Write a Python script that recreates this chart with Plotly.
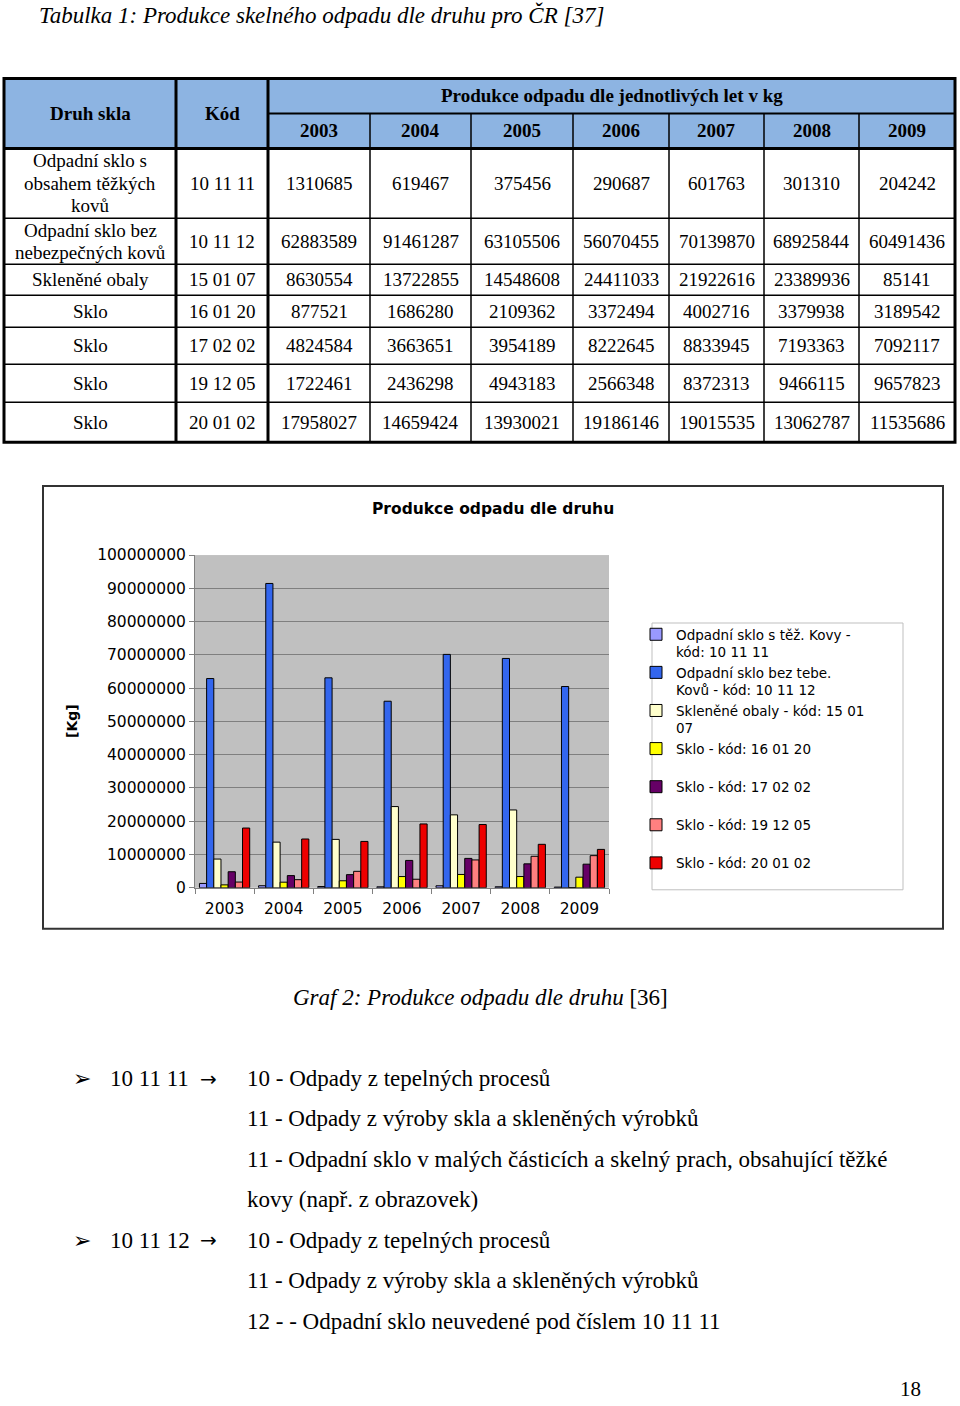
import plotly.graph_objects as go

W, H = 960, 1406

# --- data ---
roky = ["2003", "2004", "2005", "2006", "2007", "2008", "2009"]
druh_skla = ["Odpadní sklo s\nobsahem těžkých\nkovů", "Odpadní sklo bez\nnebezpečných kovů",
             "Skleněné obaly", "Sklo", "Sklo", "Sklo", "Sklo"]
kody = ["10 11 11", "10 11 12", "15 01 07", "16 01 20", "17 02 02", "19 12 05", "20 01 02"]

odpad_101111 = [1310685, 619467, 375456, 290687, 601763, 301310, 204242]
odpad_101112 = [62883589, 91461287, 63105506, 56070455, 70139870, 68925844, 60491436]
odpad_150107 = [8630554, 13722855, 14548608, 24411033, 21922616, 23389936, 85141]
odpad_160120 = [877521, 1686280, 2109362, 3372494, 4002716, 3379938, 3189542]
odpad_170202 = [4824584, 3663651, 3954189, 8222645, 8833945, 7193363, 7092117]
odpad_191205 = [1722461, 2436298, 4943183, 2566348, 8372313, 9466115, 9657823]
odpad_200102 = [17958027, 14659424, 13930021, 19186146, 19015535, 13062787, 11535686]

serie = [odpad_101111, odpad_101112, odpad_150107, odpad_160120,
         odpad_170202, odpad_191205, odpad_200102]
nazvy_serii = ["Odpadní sklo s těž. Kovy -<br>kód: 10 11 11",
               "Odpadní sklo bez tebe.<br>Kovů - kód: 10 11 12",
               "Skleněné obaly - kód: 15 01<br>07",
               "Sklo - kód: 16 01 20<br> ",
               "Sklo - kód: 17 02 02<br> ",
               "Sklo - kód: 19 12 05<br> ",
               "Sklo - kód: 20 01 02<br> "]
barvy = ["#9999FF", "#3366EE", "#FFFFCC", "#FFFF00", "#660066", "#FF8080", "#EE0000"]

popis_1 = ["10 - Odpady z tepelných procesů",
           "11 - Odpady z výroby skla a skleněných výrobků",
           "11 - Odpadní sklo v malých částicích a skelný prach, obsahující těžké",
           "kovy (např. z obrazovek)"]
popis_2 = ["10 - Odpady z tepelných procesů",
           "11 - Odpady z výroby skla a skleněných výrobků",
           "12 - - Odpadní sklo neuvedené pod číslem 10 11 11"]

SERIF = "Liberation Serif, Times New Roman, serif"
SANS = "DejaVu Sans, Arial, sans-serif"


def px(x):
    return x / W


def py(y):
    # page is shown with a small vertical offset/squeeze, compensate for it
    return 1 - ((y - 8.5) / 0.988) / H


fig = go.Figure()
for vals, name, col in zip(serie, nazvy_serii, barvy):
    fig.add_trace(go.Bar(x=roky, y=vals, name=name,
                         marker=dict(color=col, line=dict(color="black", width=1))))

shapes = []
ann = []


def text(x, y, s, size=19, family=SERIF, xanchor="center", **kw):
    ann.append(dict(x=px(x), y=py(y), xref="paper", yref="paper", text=s, showarrow=False,
                    xanchor=xanchor, yanchor="middle",
                    font=dict(family=family, size=size, color="black"), **kw))


def line(x0, y0, x1, y1, w=1.5, color="black"):
    shapes.append(dict(type="line", xref="paper", yref="paper", x0=px(x0), y0=py(y0),
                       x1=px(x1), y1=py(y1), line=dict(color=color, width=w)))


# --- table ---
col_x = [4, 176, 268, 370, 471, 573, 669, 764, 859, 955]
row_y = [148, 218, 264, 295, 327, 364, 402, 442]
top, mid = 78, 113

shapes.append(dict(type="rect", xref="paper", yref="paper", x0=px(4), y0=py(top), x1=px(955),
                   y1=py(148), fillcolor="#8DB4E2", line=dict(width=0), layer="below"))

text(37, 15, "<i>Tabulka 1: Produkce skelného odpadu dle druhu pro ČR [37]</i>", size=23,
     xanchor="left")
text((col_x[0] + col_x[1]) / 2, (top + 148) / 2, "<b>Druh skla</b>")
text((col_x[1] + col_x[2]) / 2, (top + 148) / 2, "<b>Kód</b>")
text((col_x[2] + col_x[-1]) / 2, (top + mid) / 2, "<b>Produkce odpadu dle jednotlivých let v kg</b>")
for i, r in enumerate(roky):
    text((col_x[i + 2] + col_x[i + 3]) / 2, (mid + 148) / 2, "<b>" + r + "</b>")

for j in range(len(kody)):
    yc = (row_y[j] + row_y[j + 1]) / 2
    lines = druh_skla[j].split("\n")
    for k, ln in enumerate(lines):
        text((col_x[0] + col_x[1]) / 2, yc + (k - (len(lines) - 1) / 2) * 22.5, ln)
    text((col_x[1] + col_x[2]) / 2, yc, kody[j])
    for i in range(len(roky)):
        text((col_x[i + 2] + col_x[i + 3]) / 2, yc, str(serie[j][i]))

for x in col_x[3:-1]:
    line(x, mid, x, 442, 1.5)
for y in row_y[1:-1]:
    line(4, y, 955, y, 1.5)
line(268, mid, 955, mid, 2)
line(4, 148, 955, 148, 3)
line(176, top, 176, 442, 3)
line(268, top, 268, 442, 3)
shapes.append(dict(type="rect", xref="paper", yref="paper", x0=px(4), y0=py(top), x1=px(955),
                   y1=py(442), line=dict(color="black", width=3)))

# --- chart frame, title, legend box ---
shapes.append(dict(type="rect", xref="paper", yref="paper", x0=px(43), y0=py(486), x1=px(943),
                   y1=py(929), line=dict(color="#333333", width=2)))
shapes.append(dict(type="rect", xref="paper", yref="paper", x0=px(652), y0=py(623), x1=px(903),
                   y1=py(890), line=dict(color="#BFBFBF", width=1)))
text(493, 509, "<b>Produkce odpadu dle druhu</b>", size=15.5, family=SANS)
text(72, 721, "<b>[Kg]</b>", size=14, family=SANS, textangle=-90)

# --- text below chart ---
text(480, 998, "<i>Graf 2: Produkce odpadu dle druhu</i> [36]", size=23)
rows = [1079, 1119, 1160, 1200, 1241, 1281, 1322]
for yb, kod in [(1079, "10 11 11"), (1241, "10 11 12")]:
    text(82, yb, "➢", size=22, family=SANS)
    text(108, yb, kod, size=23, xanchor="left")
    text(208, yb, "→", size=20, family=SANS)
for k, s in enumerate(popis_1):
    text(245, rows[k], s, size=23, xanchor="left")
for k, s in enumerate(popis_2):
    text(245, rows[4 + k], s, size=23, xanchor="left")
text(910, 1390, "18", size=21)

axis_font = dict(family=SANS, size=15.5, color="black")
fig.update_layout(
    width=W, height=H, margin=dict(l=0, r=0, t=0, b=0),
    paper_bgcolor="white", plot_bgcolor="#C0C0C0",
    barmode="group", bargap=0.15, bargroupgap=0,
    shapes=shapes, annotations=ann,
    legend=dict(x=px(636), y=py(619), xanchor="left", yanchor="top", valign="top",
                bgcolor="rgba(0,0,0,0)", borderwidth=0,
                font=dict(family=SANS, size=13.5, color="black")),
    xaxis=dict(domain=[px(195), px(609)], type="category", showline=True, linecolor="#808080",
               ticks="outside", tickson="boundaries", ticklen=5, tickcolor="#808080",
               ticklabelstandoff=7, showgrid=False, tickfont=axis_font),
    yaxis=dict(domain=[py(888), py(555)], range=[0, 100000000], dtick=10000000, tickformat="d",
               showgrid=True, gridcolor="#7F7F7F", gridwidth=1, zeroline=False,
               showline=True, linecolor="#808080", ticks="outside", ticklen=5,
               tickcolor="#808080", tickfont=axis_font),
)

fig.write_html("out.html", config=dict(displayModeBar=False),
               post_script="document.documentElement.style.margin='0';"
                           "document.body.style.margin='0';"
                           "document.documentElement.style.overflow='hidden';"
                           "document.body.style.overflow='hidden';")
